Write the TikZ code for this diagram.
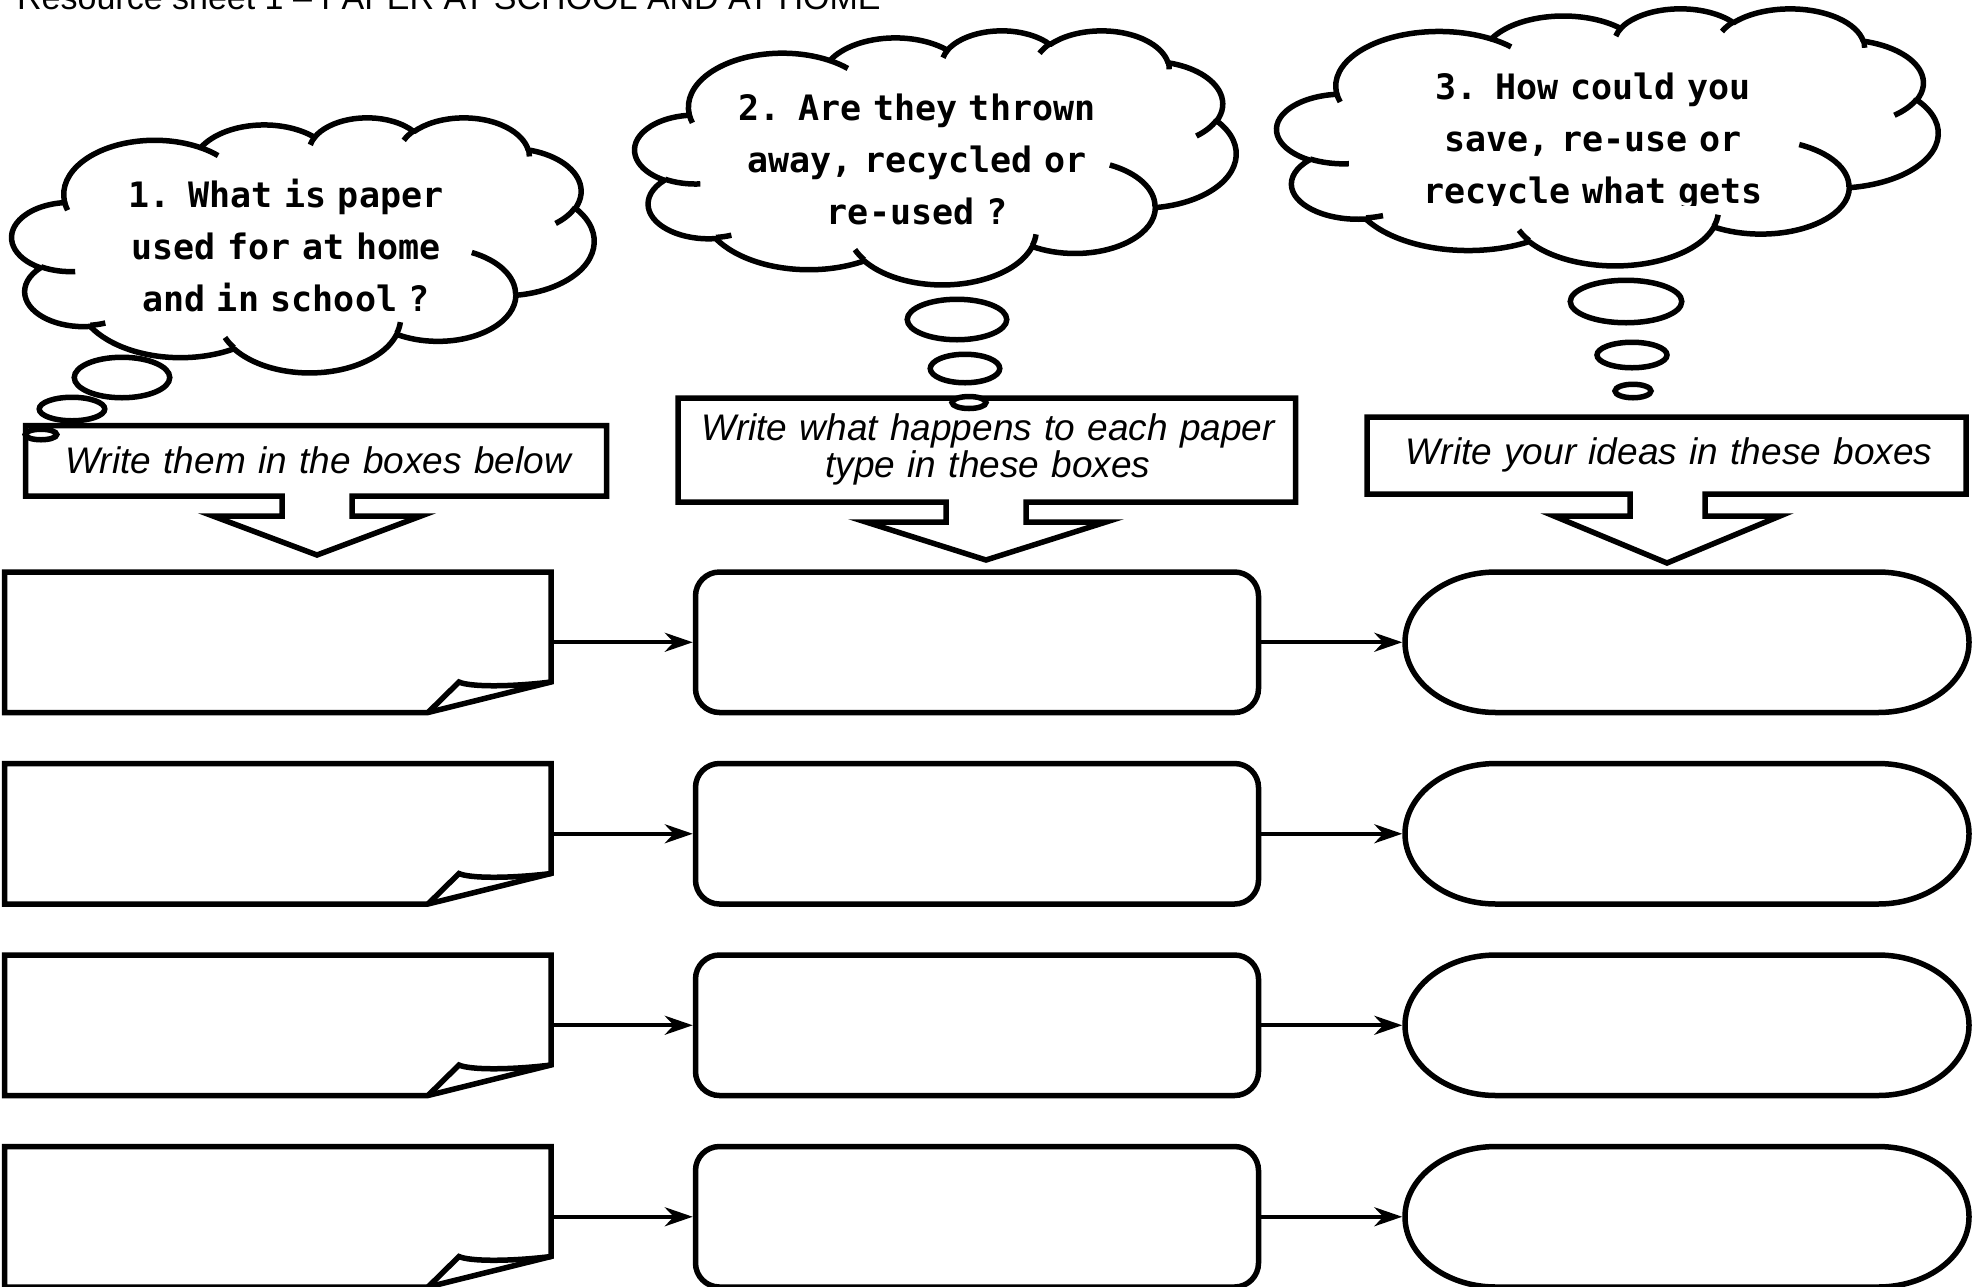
\documentclass[tikz,border=0pt]{standalone}
\usepackage{fontspec}
\setmainfont{Liberation Sans}
\newfontfamily\bubblefont{DejaVu Sans Mono}
\usetikzlibrary{arrows.meta,calc}

% one bump of a cloud: x radius, y radius, start angle and sweep (seen angles)
\newcommand\puff[4]{arc[start angle={atan2((#1)*sin(#3),(#2)*cos(#3))},
  delta angle={mod(atan2((#1)*sin((#3)+(#4)),(#2)*cos((#3)+(#4)))-atan2((#1)*sin(#3),(#2)*cos(#3))+720,360)},
  x radius=#1, y radius=#2]}
% cloud outline, drawn in a 432 x 432 box
\newcommand\cloudrim{(39.00,143.70)
  \puff{67.53}{91.90}{-190.4875}{123.7805}
  \puff{53.33}{72.67}{-144.1024}{89.9452}
  \puff{43.65}{59.45}{-145.8079}{99.7230}
  \puff{48.57}{65.95}{-130.9861}{117.2417}
  \puff{53.33}{72.73}{-78.7089}{109.0269}
  \puff{67.75}{92.20}{-46.2673}{130.2690}
  \puff{57.85}{78.67}{0.6250}{114.0333}
  \puff{67.52}{92.15}{22.4516}{115.1726}
  \puff{77.20}{105.43}{66.2426}{75.7110}
  \puff{43.60}{59.18}{-274.9421}{146.7356}
  \puff{43.45}{59.45}{-246.8285}{152.5189} -- cycle}
% the short creases inside the cloud
\newcommand\cloudcrease{
  (46.93,261.77) \puff{43.45}{59.45}{86.7420}{26.4295}
  (69.28,348.99) \puff{43.60}{59.18}{73.6105}{11.4475}
  (164.78,390.90) \puff{67.52}{92.15}{137.6242}{14.0811}
  (288.27,347.51) \puff{67.52}{92.15}{6.4533}{15.9984}
  (341.29,229.54) \puff{57.85}{78.67}{-70.2924}{70.9174}
  (417.98,153.54) \puff{53.33}{72.73}{30.3180}{27.7515}
  (383.24,54.26) \puff{48.57}{65.95}{-13.7443}{14.8589}
  (290.78,39.52) \puff{48.57}{65.95}{-149.1815}{18.1954}
  (221.41,47.20) \puff{43.65}{59.45}{-163.4943}{17.6864}
  (140.00,51.92) \puff{67.53}{91.90}{-66.7070}{12.3194}
  (41.27,157.89) \puff{67.53}{91.90}{157.6544}{11.8582}}

\tikzset{
  outline/.style={line width=5.5pt},
  cloudline/.style={line width=5.5pt, line join=round},
  bubble/.style={line width=5.5pt, fill=white},
  hint/.style={font=\itshape\fontsize{37}{37}\selectfont, align=center, text width=640pt, inner sep=0pt},
  thought/.style={font=\bubblefont\bfseries\fontsize{35}{52}\selectfont, align=center, text width=640pt, inner sep=0pt},
  link/.style={line width=4pt, -{Stealth[length=28pt,width=19pt,inset=9pt]}},
  paper/.style={minimum width=546.5pt, minimum height=140.5pt, inner sep=0pt, outer sep=0pt},
  usage/.style={outline, draw, rounded corners=24pt, minimum width=563pt, minimum height=140.5pt, inner sep=0pt},
  idea/.style={minimum width=564pt, minimum height=140.5pt, inner sep=0pt, outer sep=0pt}
}

\begin{document}
\begin{tikzpicture}[x=1pt,y=-1pt]
  \useasboundingbox (0,0) rectangle (1977,1286);
  \clip (0,0) rectangle (1977,1286);
  \fill[white] (0,0) rectangle (1977,1286);

  \node[anchor=base west, inner sep=0pt, font=\fontsize{34}{34}\selectfont] (title) at (17,9) {Resource sheet 1 – PAPER AT SCHOOL AND AT HOME};

  %clouds
  \begin{scope}[shift={(12,117)}, x=1.3472pt, y=-0.5903pt]
    \draw[cloudline, fill=white] \cloudrim;
    \draw[cloudline] \cloudcrease;
  \end{scope}
  \begin{scope}[shift={(635,30)}, x=1.3912pt, y=-0.5880pt]
    \draw[cloudline, fill=white] \cloudrim;
    \draw[cloudline] \cloudcrease;
  \end{scope}
  \begin{scope}[shift={(1277,8)}, x=1.5301pt, y=-0.5949pt]
    \draw[cloudline, fill=white] \cloudrim;
    \draw[cloudline] \cloudcrease;
  \end{scope}
  \node[thought, anchor=base] (ask1) at (286,207) {1. What is paper\\used for at home\\and in school ?};
  \node[thought, anchor=base] (ask2) at (917,120) {2. Are they thrown\\away, recycled or\\re-used ?};
  \begin{scope}
    \clip (1200,0) rectangle (1977,205);
    \node[thought, anchor=base] (ask3) at (1593,99) {3. How could you\\save, re-use or\\recycle what gets};
  \end{scope}

  %hint boxes with arrows
  \draw[outline] (25.5,425.5) -- (606.5,425.5) -- (606.5,496) -- (352,496) -- (352,516) -- (421,516)
    -- (317,555) -- (213,516) -- (282,516) -- (282,496) -- (25.5,496) -- cycle;
  \draw[outline] (678,398) -- (1295.5,398) -- (1295.5,502) -- (1026,502) -- (1026,522) -- (1106,522)
    -- (986,560) -- (866,522) -- (946,522) -- (946,502) -- (678,502) -- cycle;
  \draw[outline] (1367,417) -- (1966,417) -- (1966,494) -- (1705,494) -- (1705,516) -- (1780,516)
    -- (1667,563) -- (1554,516) -- (1630,516) -- (1630,494) -- (1367,494) -- cycle;
  \node[hint, anchor=base] (hint1) at (318,473) {Write them in the boxes below};
  \node[hint, anchor=base] (hint2) at (988,440) {Write what happens to each paper\\type in these boxes};
  \node[hint, anchor=base] (hint3) at (1669,464) {Write your ideas in these boxes};

  %thought bubbles
  \draw[bubble] (122,377.5) ellipse [x radius=47.75, y radius=20.25];
  \draw[bubble] (72,409) ellipse [x radius=32.75, y radius=11.75];
  \draw[bubble] (41,434.5) ellipse [x radius=15.75, y radius=5.25];
  \draw[bubble] (957,319.5) ellipse [x radius=49.75, y radius=20.25];
  \draw[bubble] (965,368.5) ellipse [x radius=34.75, y radius=14.25];
  \draw[bubble] (969,402.5) ellipse [x radius=17, y radius=6];
  \draw[bubble] (1626,301.5) ellipse [x radius=55.75, y radius=21.25];
  \draw[bubble] (1632,355) ellipse [x radius=35, y radius=12.75];
  \draw[bubble] (1633,391) ellipse [x radius=18, y radius=6.75];

  %rows
  \foreach \r in {1,...,4}{
    \pgfmathsetmacro\yc{642.25+(\r-1)*191.5}
    \node[paper] (paper\r) at (277.75,\yc) {};
    \node[usage] (usage\r) at (977,\yc) {};
    \node[idea] (idea\r) at (1687,\yc) {};
    \draw[outline] (paper\r.south west) -- (paper\r.north west) -- (paper\r.north east)
      -- ($(paper\r.south east)+(0,-30.5)$) -- ($(paper\r.south west)+(423.5,0)$) -- cycle;
    \draw[outline] ($(paper\r.south west)+(423.5,0)$) -- ($(paper\r.south east)+(-92,-30.5)$)
      .. controls +(11,5) and +(-41,5) .. ($(paper\r.south east)+(0,-30.5)$);
    \draw[outline] ([xshift=91pt]idea\r.north west) -- ([xshift=-91pt]idea\r.north east)
      arc[start angle=-90, end angle=90, x radius=91, y radius=70.25]
      -- ([xshift=91pt]idea\r.south west)
      arc[start angle=90, end angle=270, x radius=91, y radius=70.25] -- cycle;
    \draw[link] (paper\r.east) -- (usage\r.west);
    \draw[link, shorten >=2.75pt] (usage\r.east) -- (idea\r.west);
  }
\end{tikzpicture}
\end{document}
